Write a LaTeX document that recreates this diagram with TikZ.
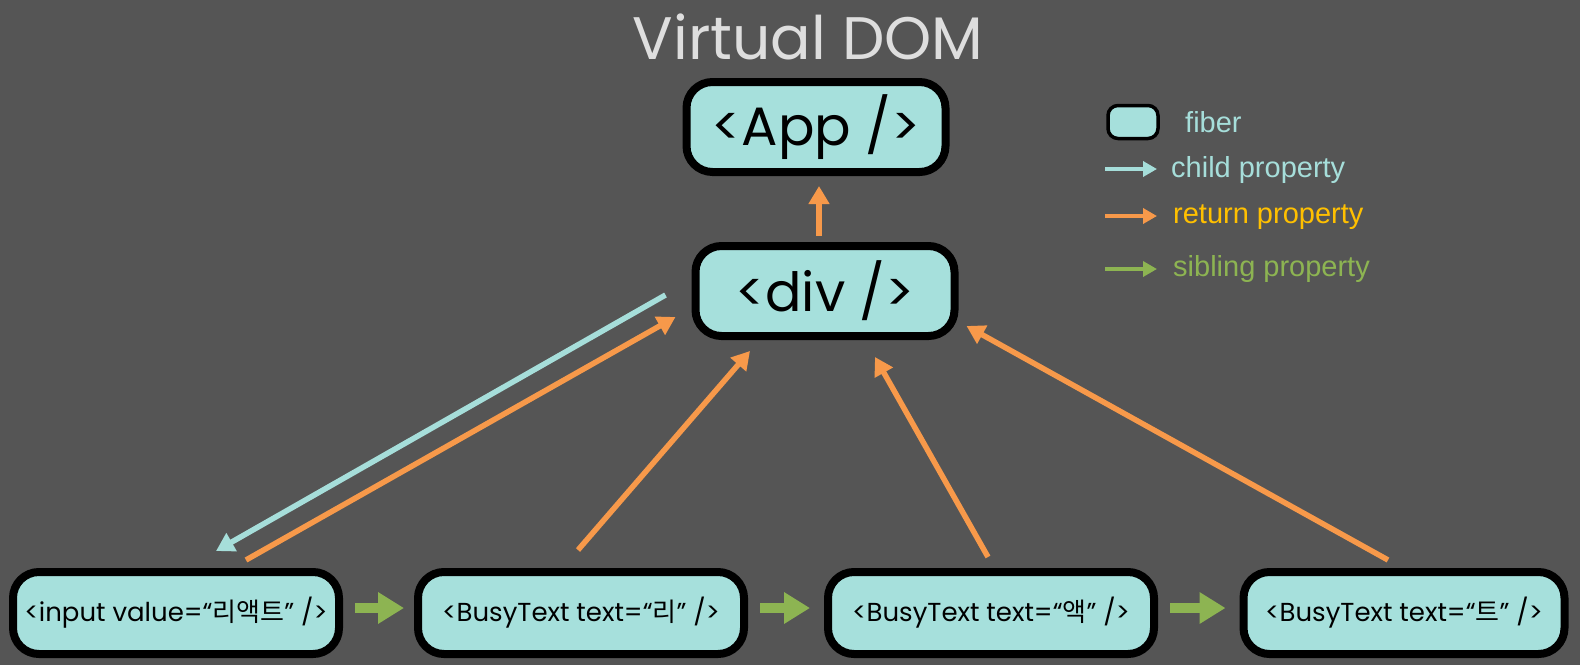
\documentclass[tikz,border=0pt]{standalone}
\usepackage{fontspec}
\setmainfont{Poppins}
\newfontfamily\legendfont{Liberation Sans}
\newfontfamily\kr{Noto Sans CJK KR}
\usetikzlibrary{arrows.meta,positioning,calc}

\definecolor{bgGray}{HTML}{555555}
\definecolor{fiberFill}{HTML}{A6E0DC}
\definecolor{childCol}{HTML}{A6DEDA}
\definecolor{returnCol}{HTML}{F7994A}
\definecolor{siblingCol}{HTML}{8DB452}
\definecolor{returnText}{HTML}{FFC000}
\definecolor{titleCol}{HTML}{DEDEDE}

\tikzset{
  fiber/.style={draw=black, line width=8pt, fill=fiberFill, rounded corners=26pt, inner sep=0pt, align=center},
  bigfiber/.style={fiber, minimum width=259pt, minimum height=90pt, font=\fontsize{54}{58}\selectfont},
  smallfiber/.style={fiber, minimum width=326pt, minimum height=82pt, font=\fontsize{26}{30}\selectfont},
  childarrow/.style={draw=childCol, line width=5.5pt, -{Triangle[length=18pt,width=20pt]}},
  returnarrow/.style={draw=returnCol, line width=5.5pt, -{Triangle[length=18pt,width=20pt]}},
  siblingarrow/.style={draw=siblingCol, line width=10pt, -{Triangle[length=26pt,width=30pt]}},
  legendarrow/.style={line width=4pt, -{Triangle[length=14pt,width=15pt]}},
  legendtext/.style={font=\legendfont\fontsize{29}{33}\selectfont, anchor=west, inner sep=0pt},
}

\begin{document}
\begin{tikzpicture}[x=1pt, y=-1pt]
  \useasboundingbox (0,0) rectangle (1580,665);
  \fill[bgGray] (0,0) rectangle (1580,665);

  % title
  \node[text=titleCol, font=\fontsize{60}{64}\selectfont] (title) at (808,37) {Virtual DOM};

  % fibers
  \node[bigfiber] (app) at (816,127) {<App />};
  \node[bigfiber] (div) at (825,291) {<div />};
  \node[smallfiber] (input) at (176,613) {<input value=“{\kr 리액트}” />};
  \node[smallfiber] (busyRi) at (581,613) {<BusyText text=“{\kr 리}” />};
  \node[smallfiber] (busyAek) at (991,613) {<BusyText text=“{\kr 액}” />};
  \node[smallfiber, minimum width=321pt] (busyTeu) at (1404,613) {<BusyText text=“{\kr 트}” />};

  % child
  \draw[childarrow] ($(div.west)+(-26,4)$) -- ($(input.north)+(40,-17)$);

  % return
  \draw[returnarrow] ($(div.south)+(-6,-104)$) -- ($(app.south)+(3,10)$);
  \draw[returnarrow] ($(input.north)+(70,-8)$) -- ($(div.west)+(-16,26)$);
  \draw[returnarrow] ($(busyRi.north)+(-3,-18)$) -- ($(div.south)+(-75,11)$);
  \draw[returnarrow] ($(busyAek.north)+(-3,-11)$) -- ($(div.south)+(50,17)$);
  \draw[returnarrow] ($(busyTeu.north)+(-16,-8)$) -- ($(div.east)+(8,35)$);

  % sibling
  \draw[siblingarrow] ($(input.east)+(12,-5)$) -- ($(busyRi.west)+(-10,-5)$);
  \draw[siblingarrow] ($(busyRi.east)+(12,-5)$) -- ($(busyAek.west)+(-14,-5)$);
  \draw[siblingarrow] ($(busyAek.east)+(12,-5)$) -- ($(busyTeu.west)+(-14,-5)$);

  % legend
  \node[fiber, line width=3.5pt, rounded corners=10pt, minimum width=50pt, minimum height=33pt] (keyFiber) at (1133,122) {};
  \node[legendtext, text=childCol] (keyFiberText) at (1185,122) {fiber};
  \coordinate (keyChildA) at (1105,169);
  \coordinate (keyChildB) at (1157,169);
  \draw[legendarrow, draw=childCol] (keyChildA) -- (keyChildB);
  \node[legendtext, text=childCol] (keyChildText) at (1171,170) {child property};
  \coordinate (keyReturnA) at (1105,216);
  \coordinate (keyReturnB) at (1157,216);
  \draw[legendarrow, draw=returnCol] (keyReturnA) -- (keyReturnB);
  \node[legendtext, text=returnText] (keyReturnText) at (1173,217) {return property};
  \coordinate (keySiblingA) at (1105,269);
  \coordinate (keySiblingB) at (1157,269);
  \draw[legendarrow, draw=siblingCol] (keySiblingA) -- (keySiblingB);
  \node[legendtext, text=siblingCol] (keySiblingText) at (1173,269) {sibling property};
\end{tikzpicture}
\end{document}
